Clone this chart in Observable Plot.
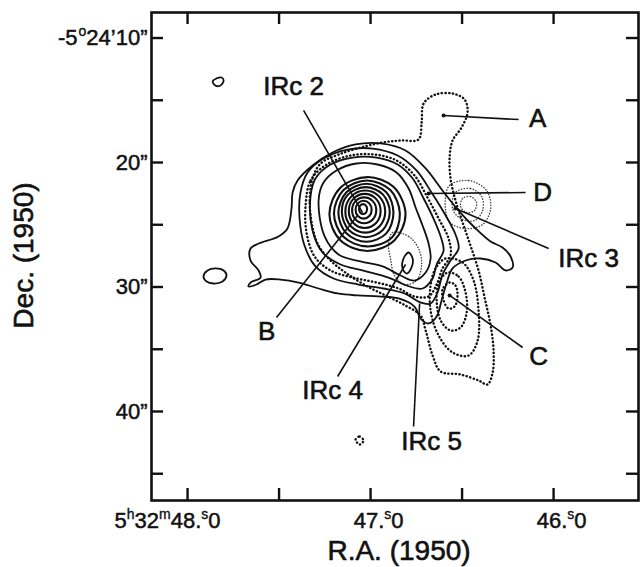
<!DOCTYPE html>
<html><head><meta charset="utf-8">
<script src="https://cdn.jsdelivr.net/npm/d3@7"></script>
<script src="https://cdn.jsdelivr.net/npm/@observablehq/plot@0.6"></script>
<style>
html,body{margin:0;padding:0;background:#fff;}
#chart{width:640px;height:567px;}
</style></head><body><div id="chart"></div>
<script>
// ---- Axis ticks (RA in seconds of 5h32m, Dec in arcsec of -5°24') ----
const raTicks = [48.0, 47.5, 47.0, 46.5, 46.0];
const raLabelValues = [48.0, 47.0, 46.0];
const raLabelText = ["5h32m48.0", "47.0", "46.0"];
const decTicks = [10, 15, 20, 25, 30, 35, 40, 45];
const decLabelValues = [10, 20, 30, 40];
const decLabelText = ["-5o24’10”", "20”", "30”", "40”"];

// ---- Solid contours (RA s, Dec ") ----
const core1 = [[47.019,23.74],[47.025,24.02],[47.041,24.14],[47.057,24.02],[47.063,23.74],[47.057,23.46],[47.041,23.34],[47.025,23.46]];
const core2 = [[46.994,23.79],[47.007,24.30],[47.038,24.51],[47.069,24.30],[47.082,23.79],[47.069,23.28],[47.038,23.07],[47.007,23.28]];
const core3 = [[46.969,23.84],[46.988,24.58],[47.035,24.88],[47.082,24.58],[47.101,23.84],[47.082,23.10],[47.035,22.80],[46.988,23.10]];
const core4 = [[46.945,23.89],[46.970,24.86],[47.032,25.26],[47.094,24.86],[47.119,23.89],[47.094,22.92],[47.032,22.52],[46.970,22.92]];
const core5 = [[46.920,23.94],[46.952,25.14],[47.029,25.63],[47.106,25.14],[47.138,23.94],[47.106,22.74],[47.029,22.25],[46.952,22.74]];
const core6 = [[46.895,23.99],[46.933,25.42],[47.026,26.00],[47.119,25.42],[47.157,23.99],[47.125,22.60],[47.026,21.98],[46.933,22.56]];
const core7 = [[46.875,24.04],[46.914,25.69],[47.023,26.37],[47.132,25.69],[47.176,24.04],[47.132,22.39],[47.023,21.71],[46.914,22.39]];
const core8 = [[46.840,24.09],[46.885,26.05],[47.020,26.74],[47.148,25.97],[47.200,24.09],[47.148,22.21],[47.020,21.44],[46.892,22.21]];
const core9 = [[46.809,24.14],[46.869,26.25],[47.017,27.11],[47.165,26.25],[47.225,24.14],[47.165,22.03],[47.017,21.17],[46.875,21.95]];
const solid10 = [[47.284,23.05],[47.257,21.61],[47.186,20.64],[47.077,20.08],[46.962,20.16],[46.858,20.80],[46.792,22.09],[46.754,23.61],[46.716,25.06],[46.683,26.51],[46.672,27.71],[46.699,28.84],[46.760,29.48],[46.836,29.08],[46.934,28.35],[47.055,27.95],[47.175,27.39],[47.251,25.94]];
const solid11 = [[47.328,22.73],[47.301,21.29],[47.219,20.16],[47.098,19.60],[46.967,19.60],[46.852,20.16],[46.770,21.29],[46.710,22.89],[46.656,24.50],[46.617,25.94],[46.601,27.07],[46.639,28.19],[46.661,29.32],[46.716,30.12],[46.803,29.88],[46.902,29.24],[47.044,28.67],[47.164,28.19],[47.262,27.23],[47.317,25.46]];
const solid12 = [[47.383,22.41],[47.344,20.80],[47.257,19.68],[47.126,18.96],[46.989,18.88],[46.852,19.44],[46.749,20.64],[46.667,22.41],[46.596,24.10],[46.536,25.78],[46.519,26.91],[46.563,27.87],[46.607,29.00],[46.634,30.44],[46.672,31.33],[46.727,31.24],[46.814,30.52],[46.929,30.12],[47.066,29.80],[47.202,29.32],[47.301,28.35],[47.361,26.67],[47.388,24.50]];
const solid13 = [[47.399,21.45],[47.317,20.24],[47.208,19.20],[47.082,18.55],[46.945,18.47],[46.809,19.04],[46.699,20.48],[46.607,22.25],[46.519,23.86],[46.426,25.30],[46.344,26.35],[46.279,26.83],[46.235,27.55],[46.224,28.43],[46.262,28.67],[46.317,28.03],[46.399,27.71],[46.481,27.87],[46.552,28.51],[46.585,29.72],[46.612,31.08],[46.639,32.37],[46.683,32.93],[46.727,32.53],[46.760,31.57],[46.847,30.92],[46.956,30.76],[47.071,30.68],[47.180,30.52],[47.284,30.12],[47.393,29.64],[47.492,29.40],[47.574,29.40],[47.623,29.80],[47.667,29.96],[47.656,29.64],[47.601,29.24],[47.612,28.67],[47.656,27.87],[47.656,26.91],[47.612,26.51],[47.503,25.94],[47.454,25.30],[47.432,23.69],[47.426,22.41]];
const irc4Peak = [[46.792,27.23],[46.770,27.71],[46.776,28.43],[46.803,28.92],[46.825,28.51],[46.820,27.71]];
const blobNW = [[47.863,13.49],[47.842,13.25],[47.814,13.17],[47.803,13.41],[47.820,13.82],[47.847,13.82]];
const blobW = [[47.913,29.16],[47.891,28.67],[47.847,28.51],[47.803,28.67],[47.787,29.08],[47.809,29.56],[47.858,29.72],[47.896,29.56]];

// ---- Dotted contours ----
const dottedOuter = [[47.317,25.22],[47.333,23.05],[47.317,21.29],[47.273,20.08],[47.175,19.36],[47.055,18.80],[46.934,18.39],[46.836,18.23],[46.738,18.15],[46.721,16.79],[46.710,15.26],[46.645,14.54],[46.552,14.46],[46.486,14.94],[46.470,15.98],[46.503,17.19],[46.552,18.23],[46.568,19.60],[46.563,21.29],[46.536,23.05],[46.497,24.82],[46.454,26.67],[46.410,28.67],[46.377,30.84],[46.344,33.09],[46.328,35.10],[46.333,36.87],[46.361,37.83],[46.410,37.51],[46.508,37.03],[46.617,36.79],[46.661,35.50],[46.699,33.49],[46.727,32.29],[46.809,31.49],[46.918,30.68],[47.027,29.88],[47.137,28.84],[47.219,27.87],[47.284,26.67]];
const dottedCore = [[47.355,23.45],[47.328,21.45],[47.240,20.16],[47.109,19.44],[46.978,19.36],[46.858,19.84],[46.760,21.04],[46.689,22.81],[46.628,24.50],[46.574,26.10],[46.563,27.47],[46.607,28.51],[46.639,29.80],[46.683,30.76],[46.760,30.76],[46.847,30.12],[46.967,29.64],[47.098,29.24],[47.219,28.67],[47.306,27.55],[47.350,25.62]];
const dottedC1 = [[46.568,29.64],[46.536,29.88],[46.525,30.76],[46.541,31.57],[46.574,31.73],[46.601,31.08],[46.607,30.20]];
const dottedC2 = [[46.579,28.84],[46.519,29.16],[46.481,30.44],[46.475,32.05],[46.508,33.25],[46.563,33.49],[46.617,32.69],[46.639,31.08],[46.628,29.72]];
const dottedC3 = [[46.590,27.71],[46.497,28.03],[46.437,29.48],[46.410,31.89],[46.415,34.30],[46.464,35.50],[46.552,35.26],[46.628,33.90],[46.672,31.89],[46.672,29.88],[46.645,28.51]];
const dottedSpeck = [[47.082,42.25],[47.060,42.01],[47.038,42.33],[47.060,42.65]];

// ---- Fine dotted contours ----
const fineD1 = [[46.497,22.89],[46.454,22.73],[46.421,23.21],[46.432,23.86],[46.475,24.02],[46.508,23.53]];
const fineD2 = [[46.536,22.41],[46.454,22.09],[46.393,22.73],[46.388,23.86],[46.432,24.66],[46.508,24.50],[46.552,23.69]];
const fineD3 = [[46.574,21.93],[46.464,21.45],[46.366,22.25],[46.344,23.69],[46.388,24.98],[46.486,25.30],[46.574,24.66]];
const fineSE = [[46.880,25.62],[46.792,25.94],[46.738,26.91],[46.721,28.19],[46.749,29.48],[46.814,29.80],[46.869,29.08],[46.891,27.71],[46.902,26.59]];

// ---- Labels and leader lines ----
const labelNames = ["IRc 2", "A", "D", "IRc 3", "B", "IRc 4", "IRc 5", "C"];
const labelRA    = [47.421, 46.087, 46.060, 45.809, 47.568, 47.208, 46.667, 46.082];
const labelDec   = [13.90, 16.47, 22.41, 27.71, 33.57, 38.31, 42.41, 35.58];
const leaderFromRA  = [47.366, 46.191, 46.153, 46.027, 47.514, 47.180, 46.765, 46.169];
const leaderFromDec = [15.82, 16.55, 22.41, 26.91, 32.45, 37.19, 41.20, 34.86];
const leaderToRA    = [47.044, 46.601, 46.683, 46.536, 47.071, 46.809, 46.732, 46.568];
const leaderToDec   = [24.02, 16.22, 22.49, 23.69, 24.26, 28.19, 31.33, 30.68];
const markedNames = ["A", "D", "IRc 3", "C"];

const axisTitleX = "R.A. (1950)";
const axisTitleY = "Dec. (1950)";

// ---- Build tables ----
const rows = (groups) => groups.flatMap(([id, pts]) => pts.map(([ra, dec]) => ({id, ra, dec})));
const coreTable = rows([["core1",core1],["core2",core2],["core3",core3],["core4",core4],["core5",core5],["core6",core6],["core7",core7],["core8",core8],["core9",core9]]);
const solidTable = rows([["s10",solid10],["s11",solid11],["s12",solid12],["s13",solid13],["irc4",irc4Peak],["bnw",blobNW],["bw",blobW]]);
const dottedTable = rows([["dout",dottedOuter],["dcore",dottedCore],["c1",dottedC1],["c2",dottedC2],["c3",dottedC3],["speck",dottedSpeck]]);
const fineTable = rows([["f1",fineD1],["f2",fineD2],["f3",fineD3],["fse",fineSE]]);
const labels = labelNames.map((t, i) => ({t, ra: labelRA[i], dec: labelDec[i]}));
const leaders = labelNames.map((t, i) => ({t, ra1: leaderFromRA[i], dec1: leaderFromDec[i], ra2: leaderToRA[i], dec2: leaderToDec[i]}));
const leaderDots = leaders.filter(d => markedNames.includes(d.t));
const raLabels = raLabelValues.map((v, i) => ({v, t: raLabelText[i]}));
const decLabels = decLabelValues.map((v, i) => ({v, t: decLabelText[i]}));

const ink = "#111";
const font = "Liberation Sans, Arial, Helvetica, sans-serif";
const plotH = 567 - 12 - 67;
const plotW = 640 - 151 - 2;

const chart = Plot.plot({
  width: 640, height: 567,
  marginLeft: 151, marginRight: 2, marginTop: 12, marginBottom: 67,
  x: {domain: [48.197, 45.536], axis: null},
  y: {domain: [47.15, 7.95], axis: null},
  style: {background: "#fff", fontFamily: font, color: ink},
  marks: [
    Plot.line(fineTable, {x: "ra", y: "dec", z: "id", curve: "catmull-rom-closed", stroke: "#444", strokeWidth: 1.4, strokeDasharray: "0.4 2.4", strokeLinecap: "round"}),
    Plot.line(dottedTable, {x: "ra", y: "dec", z: "id", curve: "catmull-rom-closed", stroke: ink, strokeWidth: 2.4, strokeDasharray: "0.3 3.4", strokeLinecap: "round"}),
    Plot.line(coreTable, {x: "ra", y: "dec", z: "id", curve: "catmull-rom-closed", stroke: ink, strokeWidth: 2.1}),
    Plot.line(solidTable, {x: "ra", y: "dec", z: "id", curve: "catmull-rom-closed", stroke: ink, strokeWidth: 1.8}),
    Plot.link(leaders, {x1: "ra1", y1: "dec1", x2: "ra2", y2: "dec2", stroke: ink, strokeWidth: 1.6}),
    Plot.dot(leaderDots, {x: "ra2", y: "dec2", r: 2, fill: ink}),
    Plot.text(labels, {x: "ra", y: "dec", text: "t", fontSize: 26, fill: ink, stroke: ink, strokeWidth: 0.6, textAnchor: "middle"}),
    Plot.frame({stroke: ink, strokeWidth: 2.6}),
    Plot.tickX(raTicks, {x: d => d, insetTop: plotH - 12, stroke: ink, strokeWidth: 2.4}),
    Plot.tickX(raTicks, {x: d => d, insetBottom: plotH - 12, stroke: ink, strokeWidth: 2.4}),
    Plot.tickY(decTicks, {y: d => d, insetRight: plotW - 12, stroke: ink, strokeWidth: 2.4}),
    Plot.tickY(decTicks, {y: d => d, insetLeft: plotW - 12, stroke: ink, strokeWidth: 2.4}),
    Plot.text(raLabels, {x: "v", text: "t", frameAnchor: "bottom", lineAnchor: "top", dy: 12, dx: 33, textAnchor: "end", fontSize: 22, fill: ink, stroke: ink, strokeWidth: 0.5}),
    Plot.text(decLabels, {y: "v", text: "t", frameAnchor: "left", textAnchor: "end", dx: -4, fontSize: 22, fill: ink, stroke: ink, strokeWidth: 0.5}),
    Plot.text([axisTitleX], {text: d => d, frameAnchor: "bottom", lineAnchor: "top", dy: 40, dx: 4, fontSize: 28, fill: ink, stroke: ink, strokeWidth: 0.6}),
    Plot.text([axisTitleY], {text: d => d, x: () => 48.896, y: () => 27.47, rotate: -90, fontSize: 28, fill: ink, stroke: ink, strokeWidth: 0.6})
  ]
});

// Superscripts in tick labels: h, m, s and the degree "o"
const svgSel = d3.select(chart);
svgSel.selectAll("text").each(function() {
  const str = this.textContent;
  const el = d3.select(this);
  const sup = (txt, dx) => el.append("tspan").attr("dy", -9).attr("dx", dx || 0).attr("font-size", 14).attr("stroke-width", 0.35).text(txt);
  const norm = (txt) => el.append("tspan").attr("dy", 9).text(txt);
  if (raLabelText.includes(str)) {
    const m = str.match(/^(?:(\d+)h(\d+)m)?(\d+)\.(\d)$/);
    if (!m) return;
    el.text(null);
    if (m[1]) {
      el.append("tspan").text(m[1]);
      sup("h");
      norm(m[2]);
      sup("m");
      norm(m[3] + ".");
    } else {
      el.append("tspan").text(m[3] + ".");
    }
    sup("s");
    norm(m[4]);
  } else if (str === decLabelText[0]) {
    const m = str.match(/^(-\d+)o(.*)$/);
    el.text(null);
    el.append("tspan").text(m[1]);
    sup("o", 1);
    norm(m[2]);
  }
});

document.getElementById("chart").appendChild(chart);
</script></body></html>
